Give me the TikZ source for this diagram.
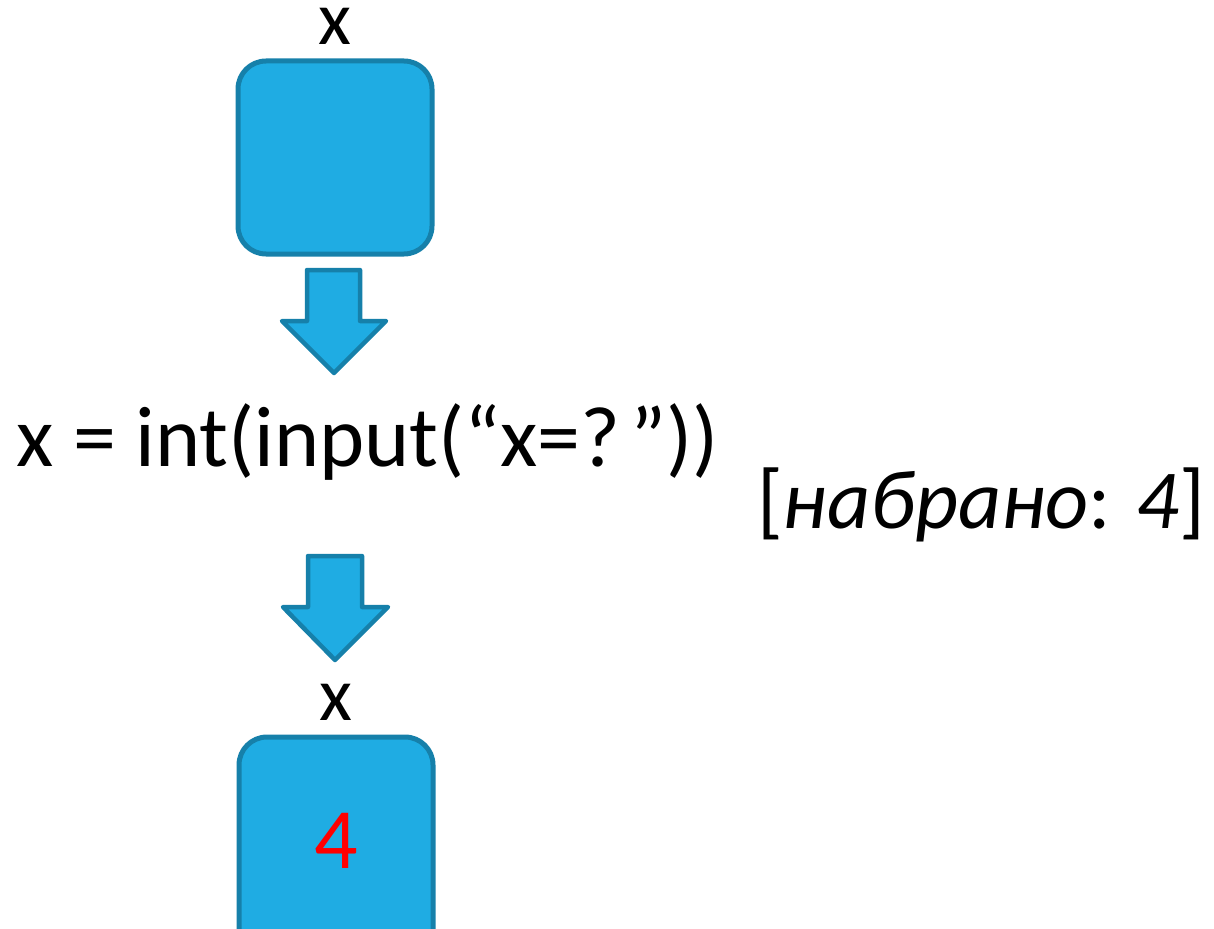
\documentclass[tikz,border=0pt]{standalone}
\usepackage{fontspec}
\setmainfont{Carlito}
\definecolor{boxfill}{RGB}{31,172,227}
\definecolor{boxline}{RGB}{22,128,170}
\tikzset{
  varbox/.style={draw=boxline, fill=boxfill, line width=5pt, rounded corners=28pt},
  blockarrow/.style={draw=boxline, fill=boxfill, line width=4.5pt, line join=round},
  lbl/.style={inner sep=0pt, anchor=base, text height=36pt, text depth=0pt, font=\fontsize{76}{80}\selectfont},
  big/.style={inner sep=0pt, anchor=base, font=\fontsize{86}{90}\selectfont},
  note/.style={inner sep=0pt, anchor=base, font=\fontsize{84}{88}\selectfont}
}
\begin{document}
\begin{tikzpicture}[x=1pt,y=-1pt]
\useasboundingbox (0,0) rectangle (1214,928);
\clip (0,0) rectangle (1214,928);
% top variable
\node[lbl] (lx1) at (335,45) {x};
\draw[varbox] (238,61) rectangle (432,254);
% arrow 1
\draw[blockarrow] (307,270) -- (360,270) -- (360,321) -- (386,321) -- (334,373) -- (282,321) -- (307,321) -- cycle;
% statement
\node[big] (stmt) at (368,466) {x = int(input(“x=?\kern0.12em”))};
\node[note] (typed) at (981,528) {[\textit{набрано}: \textit{4}]};
% arrow 2
\draw[blockarrow] (308,556) -- (362,556) -- (362,607) -- (388,607) -- (335,660) -- (283,607) -- (308,607) -- cycle;
% bottom variable
\node[lbl] (lx2) at (336,720) {x};
\draw[varbox] (239,737) rectangle (433,980);
\node[big, text=red] (val) at (336,868) {4};
\end{tikzpicture}
\end{document}
